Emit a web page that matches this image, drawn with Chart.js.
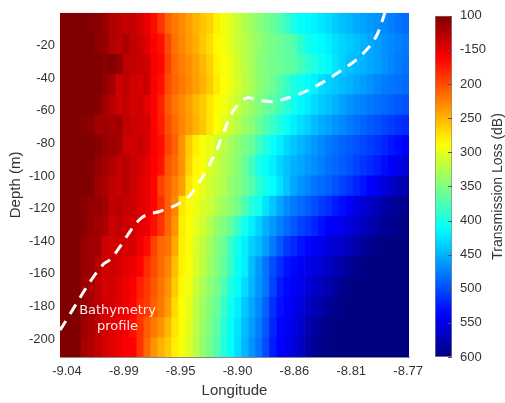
<!DOCTYPE html>
<html>
<head>
<meta charset="utf-8">
<script src="https://cdn.jsdelivr.net/npm/chart.js@4.4.1/dist/chart.umd.min.js"></script>
<style>
  body { margin: 0; background: #fff; }
  #wrap { position: relative; width: 505px; height: 403px; }
  #main { position: absolute; left: 0; top: 0; }
  #cbar { position: absolute; left: 420px; top: 0; }
</style>
</head>
<body>
<div id="wrap">
  <canvas id="main" width="430" height="403"></canvas>
  <canvas id="cbar" width="85" height="403"></canvas>
</div>
<script>
// ===============================
// Data
// ===============================
// longitude of each heat-map column (centre)
const lonCenters = [
  -9.0427, -9.0372, -9.0317, -9.0262, -9.0206, -9.0151, -9.0096, -9.0040, -8.9985, -8.9930,
  -8.9875, -8.9819, -8.9764, -8.9709, -8.9654, -8.9598, -8.9543, -8.9488, -8.9433, -8.9377,
  -8.9322, -8.9267, -8.9212, -8.9156, -8.9101, -8.9046, -8.8991, -8.8935, -8.8880, -8.8825,
  -8.8770, -8.8714, -8.8659, -8.8604, -8.8549, -8.8493, -8.8438, -8.8383, -8.8328, -8.8272,
  -8.8217, -8.8162, -8.8107, -8.8051, -8.7996, -8.7941, -8.7886, -8.7830, -8.7775, -8.7720
];
// depth band edges (m), top to bottom
const depthEdges = [0, -12.4, -24.8, -37.2, -49.6, -62.1, -74.5, -86.9, -99.3, -111.7,
  -124.1, -136.5, -148.9, -161.4, -173.8, -186.2, -198.6, -211];

// transmission loss (dB), one row per depth band, one value per column
const tlGrid = [
  [100,100,100,100,102,105,112,124,127,134, 132,144,152,168,188,210,222,230,240,250, 258,265,280,292,303,314,325,335,345,352, 362,372,386,400,410,414,418,424,430,437, 443,448,453,458,462,465,470,475,480,485],
  [100,100,100,100,100,107,110,124,130,122, 132,137,147,162,170,198,218,228,238,248, 260,272,285,292,302,314,322,332,340,348, 354,360,366,372,390,403,410,414,420,427, 433,438,443,450,455,460,466,470,474,478],
  [100,100,100,100,100,100,104,102,110,130, 132,134,140,158,165,195,215,225,232,242, 252,265,282,290,298,310,320,332,343,350, 355,360,364,368,380,390,398,408,415,425, 435,442,446,450,455,460,466,472,476,480],
  [100,100,100,100,100,100,107,117,137,130, 140,142,134,160,170,200,212,222,230,240, 250,262,278,288,298,308,318,330,342,350, 360,372,385,398,406,412,418,428,435,440, 445,450,455,460,466,472,476,480,482,485],
  [100,100,100,100,100,102,117,127,140,132, 142,140,150,162,178,205,220,230,240,252, 262,275,285,292,305,315,328,338,348,358, 368,380,392,404,415,422,430,438,443,450, 458,465,470,474,478,482,486,490,494,498],
  [100,100,100,104,106,117,114,120,117,132, 137,140,142,162,175,200,215,228,238,250, 260,275,288,300,312,325,335,345,360,372, 385,398,408,420,428,435,445,452,458,465, 470,476,482,488,494,498,503,508,513,518],
  [100,100,100,100,100,104,112,114,120,137, 140,134,142,160,168,195,210,235,262,280, 290,298,310,320,332,342,352,362,380,395, 410,420,432,440,448,455,462,470,477,483, 488,493,498,503,508,513,520,527,533,538],
  [100,100,100,100,100,110,117,124,132,127, 137,142,150,162,172,205,215,235,265,285, 290,305,315,325,335,345,360,380,400,410, 420,432,442,450,455,462,468,475,482,487, 492,498,505,512,518,524,532,540,548,556],
  [100,100,100,100,102,117,122,130,134,127, 137,147,152,165,195,210,225,240,275,288, 300,310,318,325,340,348,358,372,390,402, 412,425,440,455,465,472,480,485,490,498, 505,512,520,528,538,545,555,565,572,578],
  [100,100,100,104,110,110,117,132,127,134, 137,147,152,165,185,210,228,275,285,295, 305,312,325,335,345,355,375,395,405,425, 440,455,468,478,485,492,500,508,515,525, 532,540,550,558,565,572,580,585,590,593],
  [100,100,100,105,112,117,122,137,132,140, 142,150,154,170,188,212,235,278,288,300, 310,325,340,350,365,385,405,420,435,450, 462,475,485,495,505,512,520,530,538,542, 548,555,562,568,575,582,588,592,595,598],
  [100,100,100,112,116,117,140,142,137,144, 142,157,167,195,212,218,245,280,290,305, 318,332,348,360,385,405,420,435,445,460, 478,495,510,518,528,537,542,548,555,560, 565,572,580,588,592,596,598,600,600,600],
  [100,100,100,112,114,127,140,137,142,150, 154,162,184,198,215,228,255,282,292,305, 320,335,350,362,385,408,420,445,462,480, 500,515,528,535,542,548,552,560,568,575, 582,588,594,598,600,600,600,600,600,600],
  [100,100,100,116,119,132,142,140,147,154, 160,177,190,205,220,235,262,285,295,312, 328,342,355,375,398,412,430,448,465,480, 505,525,535,541,548,555,562,570,578,586, 592,596,600,600,600,600,600,600,600,600],
  [100,100,100,112,119,130,140,142,150,154, 162,182,192,210,222,240,270,288,300,318, 335,348,362,385,405,420,440,455,470,490, 515,530,538,545,555,565,575,582,588,594, 598,600,600,600,600,600,600,600,600,600],
  [100,100,100,114,122,132,142,147,152,157, 170,187,207,222,235,252,275,290,302,320, 338,352,368,392,410,425,445,460,475,495, 520,535,542,550,562,575,585,592,597,600, 600,600,600,600,600,600,600,600,600,600],
  [100,100,100,119,124,134,142,150,154,160, 162,187,214,235,250,262,280,292,305,322, 340,355,372,395,412,428,448,465,480,500, 525,538,545,555,568,580,590,596,600,600, 600,600,600,600,600,600,600,600,600,600]
];

// bathymetry profile (dashed line)
const bathyLon = [-9.0455, -9.0109, -9.0062, -8.9825, -8.9762, -8.9668, -8.9487, -8.9416, -8.9227, -8.9101,
  -8.9054, -8.8968, -8.8865, -8.8763, -8.8684, -8.8488, -8.8250, -8.8055, -8.7945, -8.7874];
const bathyDepth = [-194.5, -153.9, -151.5, -126.7, -123.6, -121.8, -115.7, -110.9, -86.1, -62.4,
  -57.0, -52.1, -53.9, -54.5, -53.0, -47.3, -36.4, -24.8, -13.3, 2.4];

// axis ticks
const lonTicks = [-9.04, -8.995, -8.95, -8.905, -8.86, -8.815, -8.77];
const lonTickLabels = ['-9.04', '-8.99', '-8.95', '-8.90', '-8.86', '-8.81', '-8.77'];
const depthTicks = [-200, -180, -160, -140, -120, -100, -80, -60, -40, -20];
const cbTicks = [100, 150, 200, 250, 300, 350, 400, 450, 500, 550, 600];
const cbTickLabels = ['100', '-150', '200', '250', '300', '350', '400', '450', '500', '550', '600'];

// ===============================
// Colour map (jet, low loss = dark red)
// ===============================
function jet(tl) {
  const t = Math.min(1, Math.max(0, (600 - tl) / 500));
  const f = v => Math.round(255 * Math.min(1, Math.max(0, 1.5 - Math.abs(4 * t - v))));
  return `rgb(${f(3)},${f(2)},${f(1)})`;
}

const FONT = '"Liberation Sans", Arial, sans-serif';
const TXT = '#333333';

// ===============================
// Main heat map
// ===============================
const heatDatasets = tlGrid.map((row, r) => ({
  type: 'bar',
  data: lonCenters.map(lon => ({ x: lon, y: [depthEdges[r + 1] - 0.4, depthEdges[r]] })),
  backgroundColor: row.map(jet),
  borderWidth: 0,
  grouped: false,
  barPercentage: 1.1,
  categoryPercentage: 1,
  order: 2
}));

const bathyDataset = {
  type: 'line',
  data: bathyLon.map((x, i) => ({ x: x, y: bathyDepth[i] })),
  borderColor: '#ffffff',
  borderWidth: 3,
  borderDash: [11, 8],
  pointRadius: 0,
  cubicInterpolationMode: 'monotone',
  fill: false,
  order: 0
};

const labelPlugin = {
  id: 'bathyLabel',
  afterDatasetsDraw(chart) {
    const { ctx, scales: { x, y } } = chart;
    ctx.save();
    ctx.font = '13px "DejaVu Sans", sans-serif';
    ctx.fillStyle = 'rgba(255,255,255,0.92)';
    ctx.textAlign = 'center';
    ctx.textBaseline = 'middle';
    ctx.fillText('Bathymetry', x.getPixelForValue(-9.0), y.getPixelForValue(-182.4));
    ctx.fillText('profile', x.getPixelForValue(-9.0), y.getPixelForValue(-192.1));
    ctx.restore();
  }
};

new Chart(document.getElementById('main').getContext('2d'), {
  type: 'bar',
  data: { datasets: [bathyDataset, ...heatDatasets] },
  options: {
    responsive: false,
    animation: false,
    layout: { padding: { left: 0, top: 10, right: 19, bottom: 0 } },
    plugins: { legend: { display: false }, tooltip: { enabled: false } },
    scales: {
      x: {
        type: 'linear',
        min: -9.0455,
        max: -8.7693,
        offset: false,
        afterBuildTicks: s => { s.ticks = lonTicks.map(v => ({ value: v })); },
        afterFit: s => { s.height = 46; },
        ticks: {
          callback: (v, i) => lonTickLabels[i],
          autoSkip: false, maxRotation: 0, padding: 7,
          font: { family: FONT, size: 13 }, color: TXT
        },
        grid: { display: false, drawTicks: false },
        border: { display: true, color: '#8a8a8a' },
        title: {
          display: true, text: 'Longitude', color: TXT,
          font: { family: FONT, size: 15 }, padding: { top: 4, bottom: 3 }
        }
      },
      y: {
        type: 'linear',
        min: -211,
        max: 0,
        afterBuildTicks: s => { s.ticks = depthTicks.map(v => ({ value: v })); },
        afterFit: s => { s.width = 60; },
        ticks: { autoSkip: false, padding: 5, font: { family: FONT, size: 13 }, color: TXT },
        grid: { display: false, drawTicks: false },
        border: { display: false },
        title: {
          display: true, text: 'Depth (m)', color: TXT,
          font: { family: FONT, size: 15 }, padding: { top: 7, bottom: 0 }
        }
      }
    }
  },
  plugins: [labelPlugin]
});

// ===============================
// Colour bar
// ===============================
const cbarPlugin = {
  id: 'cbarDecor',
  afterDatasetsDraw(chart) {
    const { ctx, chartArea, scales: { y } } = chart;
    ctx.save();
    ctx.strokeStyle = '#555';
    ctx.lineWidth = 1;
    cbTicks.forEach(v => {
      const py = Math.round(y.getPixelForValue(v)) + 0.5;
      ctx.beginPath();
      ctx.moveTo(chartArea.right - 4, py);
      ctx.lineTo(chartArea.right, py);
      ctx.stroke();
    });
    ctx.translate(78, (chartArea.top + chartArea.bottom) / 2);
    ctx.rotate(-Math.PI / 2);
    ctx.font = '14px ' + FONT;
    ctx.fillStyle = TXT;
    ctx.textAlign = 'center';
    ctx.textBaseline = 'middle';
    ctx.fillText('Transmission Loss (dB)', 0, 0);
    ctx.restore();
  }
};

new Chart(document.getElementById('cbar').getContext('2d'), {
  type: 'bar',
  data: {
    labels: [''],
    datasets: [{
      data: [[100, 600]],
      backgroundColor: c => {
        const chart = c.chart;
        if (!chart.chartArea) return '#000080';
        const y = chart.scales.y;
        const top = y.getPixelForValue(100), bot = y.getPixelForValue(600);
        const g = chart.ctx.createLinearGradient(0, top, 0, bot);
        for (let k = 0; k <= 50; k++) g.addColorStop(k / 50, jet(100 + k * 10));
        return g;
      },
      borderWidth: 1,
      borderColor: '#8c8c8c',
      borderSkipped: false,
      barPercentage: 1,
      categoryPercentage: 1
    }]
  },
  options: {
    responsive: false,
    animation: false,
    layout: { padding: { left: 15, top: 10, right: 0, bottom: 46 } },
    plugins: { legend: { display: false }, tooltip: { enabled: false } },
    scales: {
      x: { display: false },
      y: {
        position: 'right',
        min: 100,
        max: 600,
        reverse: true,
        afterBuildTicks: s => { s.ticks = cbTicks.map(v => ({ value: v })); },
        afterFit: s => { s.width = 53; },
        ticks: {
          callback: (v, i) => cbTickLabels[i],
          autoSkip: false, padding: 8,
          font: { family: FONT, size: 13 }, color: TXT
        },
        grid: { display: false, drawTicks: false },
        border: { display: false }
      }
    }
  },
  plugins: [cbarPlugin]
});
</script>
</body>
</html>
